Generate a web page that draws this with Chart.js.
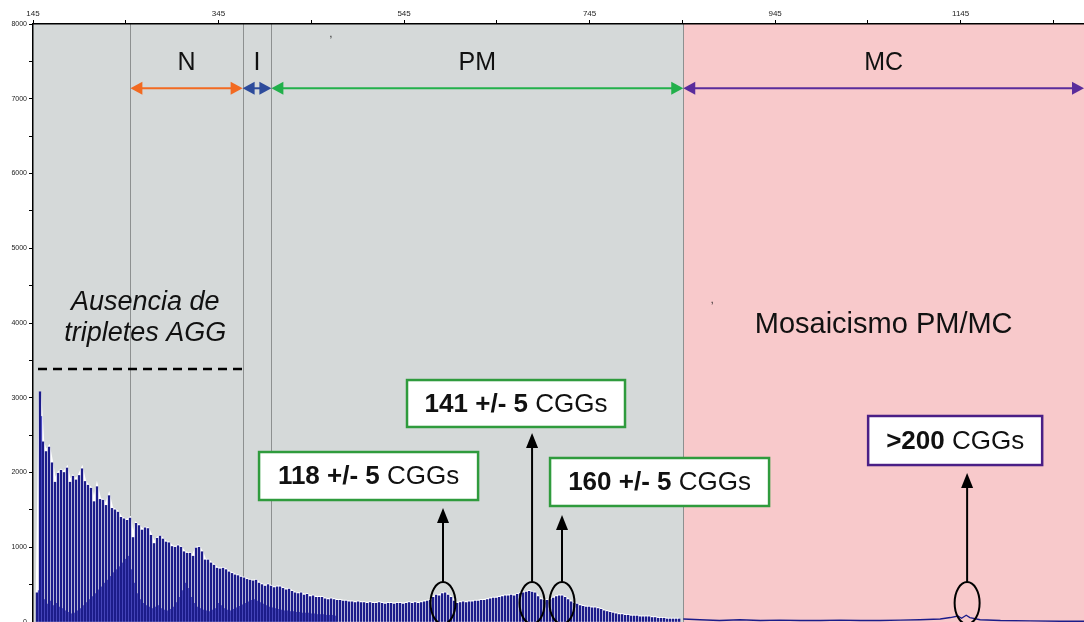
<!DOCTYPE html>
<html>
<head>
<meta charset="utf-8">
<script src="https://cdn.jsdelivr.net/npm/chart.js@4"></script>
<style>
  html, body { margin: 0; padding: 0; background: #fff; }
</style>
</head>
<body>
<canvas id="trace" width="1084" height="622"></canvas>
<script>
// electroferograma FMR1 - picos cada repeticion CGG
const PEAK_START = 149.3;
const PEAK_STEP = 3.235;

const mainPeaks = [
  390, 3080, 2410, 2280, 2340, 2130, 1870, 1990, 2030, 2000,
  2060, 1870, 1950, 1900, 1960, 2050, 1880, 1830, 1790, 1610,
  1810, 1640, 1630, 1560, 1690, 1520, 1500, 1470, 1400, 1380,
  1360, 1390, 1130, 1320, 1290, 1230, 1260, 1250, 1160, 1050,
  1120, 1150, 1110, 1070, 1060, 1010, 1000, 1020, 1000, 940,
  920, 920, 880, 990, 1000, 940, 830, 830, 790, 760,
  720, 710, 720, 700, 670, 650, 630, 620, 600, 590,
  570, 560, 550, 560, 520, 500, 480, 500, 480, 460,
  470, 470, 450, 430, 440, 410, 390, 380, 390, 360,
  370, 340, 350, 330, 330, 330, 310, 300, 310, 300,
  290, 290, 280, 280, 270, 270, 260, 270, 260, 260,
  250, 260, 250, 250, 260, 250, 240, 250, 250, 240,
  250, 250, 240, 250, 260, 250, 260, 250, 260, 270,
  280, 290, 330, 360, 350, 380, 390, 360, 330, 280,
  250, 260, 270, 260, 270, 270, 280, 280, 290, 290,
  300, 310, 320, 320, 330, 340, 350, 350, 360, 350,
  370, 380, 390, 400, 410, 400, 390, 340, 300, 290,
  290, 300, 320, 340, 350, 350, 330, 300, 270, 250,
  240, 220, 210, 200, 200, 190, 190, 180, 170, 150,
  140, 130, 120, 110, 100, 100, 90, 90, 80, 80,
  80, 70, 70, 70, 70, 60, 60, 50, 50, 50,
  40, 40, 40, 40, 40
];

// picos menores intercalados (medio paso despues de cada pico principal)
const minorPeaks = [
  420, 2750, 300, 240, 280, 220, 250, 200, 180, 150,
  130, 110, 120, 150, 180, 220, 260, 300, 340, 380,
  430, 470, 520, 560, 610, 660, 700, 740, 790, 840,
  880, 700, 520, 380, 300, 250, 220, 200, 180, 200,
  220, 180, 160, 150, 170, 200, 260, 330, 420, 520,
  450, 330, 250, 200, 180, 160, 150, 140, 160, 180,
  250, 220, 180, 160, 150, 170, 190, 210, 230, 250,
  270, 290, 300, 280, 260, 240, 220, 200, 190, 180,
  170, 160, 150, 150, 140, 140, 130, 130, 120, 120,
  120, 110, 110, 100, 100, 100, 90, 90, 90, 80
];

// cola en la zona de mutacion completa
const tailBp = [846, 864, 885, 907, 929, 950, 972, 994, 1015, 1037, 1058, 1080,
                1101, 1123, 1134, 1142, 1146, 1151, 1155, 1166, 1188, 1220, 1252, 1278];
const tailSignal = [40, 30, 20, 30, 20, 25, 20, 20, 25, 20, 20, 25,
                    30, 40, 60, 80, 50, 90, 60, 30, 20, 15, 10, 10];

// rangos alelicos
const groupNames = ['N', 'I', 'PM', 'MC'];
const groupFrom = [250, 371, 402, 846];
const groupTo = [371, 402, 846, 1278];

const xTickValues = [145, 245, 345, 445, 545, 645, 745, 845, 945, 1045, 1145, 1245];
const xLabelValues = [145, 345, 545, 745, 945, 1145];
const yTickValues = [0, 500, 1000, 1500, 2000, 2500, 3000, 3500, 4000, 4500, 5000, 5500, 6000, 6500, 7000, 7500, 8000];

const FONT = 'Arial, "Liberation Sans", sans-serif';

const mainData = mainPeaks.map((v, i) => ({ x: PEAK_START + i * PEAK_STEP, y: v }));
const minorData = minorPeaks.map((v, i) => ({ x: PEAK_START + (i + 0.5) * PEAK_STEP, y: v }));
const tailData = tailBp.map((b, i) => ({ x: b, y: tailSignal[i] }));

const groupColors = ['#f26a21', '#2d4b9b', '#22b04b', '#5a2c9c'];
const bandColors = ['#d5d9d9', '#f8c9cb'];

const callouts = [
  { bold: '118 +/- 5', rest: ' CGGs', left: 388.7, right: 624.8, top: 2274, bottom: 1632, at: 587, tip: 1525, color: '#2f9b3d' },
  { bold: '141 +/- 5', rest: ' CGGs', left: 548.2, right: 783.2, top: 3237, bottom: 2609, at: 683, tip: 2528, color: '#2f9b3d' },
  { bold: '160 +/- 5', rest: ' CGGs', left: 702.4, right: 938.5, top: 2194, bottom: 1552, at: 715.3, tip: 1431, color: '#2f9b3d' },
  { bold: '>200', rest: ' CGGs', left: 1045.3, right: 1232.9, top: 2756, bottom: 2100, at: 1152, tip: 1993, color: '#4a1f86' }
];

function head(ctx, tx, ty, ux, uy, len, half) {
  const bx = tx - ux * len, by = ty - uy * len;
  ctx.beginPath();
  ctx.moveTo(tx, ty);
  ctx.lineTo(bx - uy * half, by + ux * half);
  ctx.lineTo(bx + uy * half, by - ux * half);
  ctx.closePath();
  ctx.fill();
}

const backdrop = {
  id: 'backdrop',
  beforeDraw(chart) {
    const { ctx, chartArea: a, scales: { x } } = chart;
    ctx.save();
    const split = x.getPixelForValue(groupFrom[3]);
    ctx.fillStyle = bandColors[0];
    ctx.fillRect(a.left, a.top, split - a.left, a.bottom - a.top);
    ctx.fillStyle = bandColors[1];
    ctx.fillRect(split, a.top, a.right - split, a.bottom - a.top);
    ctx.strokeStyle = '#8d9090';
    ctx.lineWidth = 1;
    groupFrom.forEach(v => {
      const px = Math.round(x.getPixelForValue(v)) + 0.5;
      ctx.beginPath();
      ctx.moveTo(px, a.top);
      ctx.lineTo(px, a.bottom);
      ctx.stroke();
    });
    ctx.restore();
  },
  afterDatasetsDraw(chart) {
    const { ctx, scales: { x, y } } = chart;
    ctx.save();

    // flechas de rangos
    const ay = y.getPixelForValue(7140);
    groupNames.forEach((name, i) => {
      const x0 = x.getPixelForValue(groupFrom[i]);
      const x1 = x.getPixelForValue(groupTo[i]);
      ctx.strokeStyle = groupColors[i];
      ctx.fillStyle = groupColors[i];
      ctx.lineWidth = 2;
      ctx.beginPath();
      ctx.moveTo(x0 + 8, ay);
      ctx.lineTo(x1 - 8, ay);
      ctx.stroke();
      head(ctx, x0, ay, -1, 0, 12, 6.5);
      head(ctx, x1, ay, 1, 0, 12, 6.5);
      ctx.fillStyle = '#111';
      ctx.font = '25px ' + FONT;
      ctx.textAlign = 'center';
      ctx.textBaseline = 'middle';
      ctx.fillText(name, (x0 + x1) / 2, y.getPixelForValue(7480));
    });

    // ausencia AGG
    ctx.fillStyle = '#111';
    ctx.font = 'italic 27px ' + FONT;
    ctx.textAlign = 'center';
    ctx.textBaseline = 'middle';
    ctx.fillText('Ausencia de', x.getPixelForValue(266), y.getPixelForValue(4281));
    ctx.fillText('tripletes AGG', x.getPixelForValue(266), y.getPixelForValue(3866));
    ctx.strokeStyle = '#000';
    ctx.lineWidth = 2.5;
    ctx.setLineDash([9, 6]);
    ctx.beginPath();
    ctx.moveTo(x.getPixelForValue(150.4), y.getPixelForValue(3385));
    ctx.lineTo(x.getPixelForValue(373.6), y.getPixelForValue(3385));
    ctx.stroke();
    ctx.setLineDash([]);

    ctx.font = '29px ' + FONT;
    ctx.fillText('Mosaicismo PM/MC', x.getPixelForValue(1062), y.getPixelForValue(3973));

    // restos de la imagen original
    ctx.font = '10px ' + FONT;
    ctx.fillText(',', x.getPixelForValue(466), y.getPixelForValue(7860));
    ctx.fillText(',', x.getPixelForValue(877), y.getPixelForValue(4300));

    // recuadros con flechas
    callouts.forEach(c => {
      const l = x.getPixelForValue(c.left), r = x.getPixelForValue(c.right);
      const t = y.getPixelForValue(c.top), b = y.getPixelForValue(c.bottom);
      ctx.fillStyle = '#fff';
      ctx.fillRect(l, t, r - l, b - t);
      ctx.strokeStyle = c.color;
      ctx.lineWidth = 2.5;
      ctx.strokeRect(l, t, r - l, b - t);

      ctx.font = 'bold 26px ' + FONT;
      const wb = ctx.measureText(c.bold).width;
      ctx.font = '26px ' + FONT;
      const wr = ctx.measureText(c.rest).width;
      let tx = (l + r) / 2 - (wb + wr) / 2;
      const ty = (t + b) / 2 + 1;
      ctx.fillStyle = '#111';
      ctx.textAlign = 'left';
      ctx.font = 'bold 26px ' + FONT;
      ctx.fillText(c.bold, tx, ty);
      ctx.font = '26px ' + FONT;
      ctx.fillText(c.rest, tx + wb, ty);

      const px = x.getPixelForValue(c.at);
      const tipY = y.getPixelForValue(c.tip);
      const ey = y.getPixelForValue(254);
      ctx.strokeStyle = '#000';
      ctx.fillStyle = '#000';
      ctx.lineWidth = 2;
      ctx.beginPath();
      ctx.moveTo(px, ey - 21);
      ctx.lineTo(px, tipY + 10);
      ctx.stroke();
      head(ctx, px, tipY, 0, -1, 15, 6);
      ctx.beginPath();
      ctx.ellipse(px, ey, 12.5, 21, 0, 0, Math.PI * 2);
      ctx.stroke();
    });
    ctx.restore();
  }
};

const ctx = document.getElementById('trace').getContext('2d');

new Chart(ctx, {
  type: 'bar',
  data: {
    datasets: [
      {
        type: 'bar',
        label: 'CGG',
        data: mainData,
        backgroundColor: '#1c1c8a',
        barThickness: 1.7,
        grouped: false,
        order: 1
      },
      {
        type: 'bar',
        label: 'menores',
        data: minorData,
        backgroundColor: '#5b5bd0',
        barThickness: 0.7,
        grouped: false,
        order: 2
      },
      {
        type: 'line',
        label: 'envolvente',
        data: mainData,
        fill: 'origin',
        backgroundColor: '#ffffff',
        borderColor: '#ffffff',
        borderWidth: 2.5,
        pointRadius: 0,
        order: 3
      },
      {
        type: 'line',
        label: 'cola',
        data: tailData,
        borderColor: '#1c1c8a',
        borderWidth: 1.3,
        pointRadius: 0,
        fill: false,
        order: 0
      }
    ]
  },
  options: {
    responsive: false,
    animation: false,
    layout: { padding: 0 },
    scales: {
      x: {
        type: 'linear',
        position: 'top',
        min: 145,
        max: 1278,
        offset: false,
        afterBuildTicks: s => { s.ticks = xTickValues.map(v => ({ value: v })); },
        afterFit: s => { s.height = 24; s.paddingLeft = 0; s.paddingRight = 0; },
        ticks: {
          callback: v => xLabelValues.includes(v) ? String(v) : '',
          maxRotation: 0,
          autoSkip: false,
          padding: 1,
          color: '#222',
          font: { size: 8, family: FONT }
        },
        grid: { drawOnChartArea: false, offset: false, tickLength: 4, color: '#000' },
        border: { color: '#000', width: 1.5 }
      },
      y: {
        min: 0,
        max: 8000,
        afterBuildTicks: s => { s.ticks = yTickValues.map(v => ({ value: v })); },
        afterFit: s => { s.width = 33; s.paddingTop = 0; s.paddingBottom = 0; },
        ticks: {
          callback: v => v % 1000 === 0 ? String(v) : '',
          padding: 2,
          color: '#222',
          font: { size: 7, family: FONT }
        },
        grid: { drawOnChartArea: false, tickLength: 4, color: '#000' },
        border: { color: '#000', width: 1.5 }
      }
    },
    plugins: {
      legend: { display: false },
      tooltip: { enabled: false }
    }
  },
  plugins: [backdrop]
});
</script>
</body>
</html>
